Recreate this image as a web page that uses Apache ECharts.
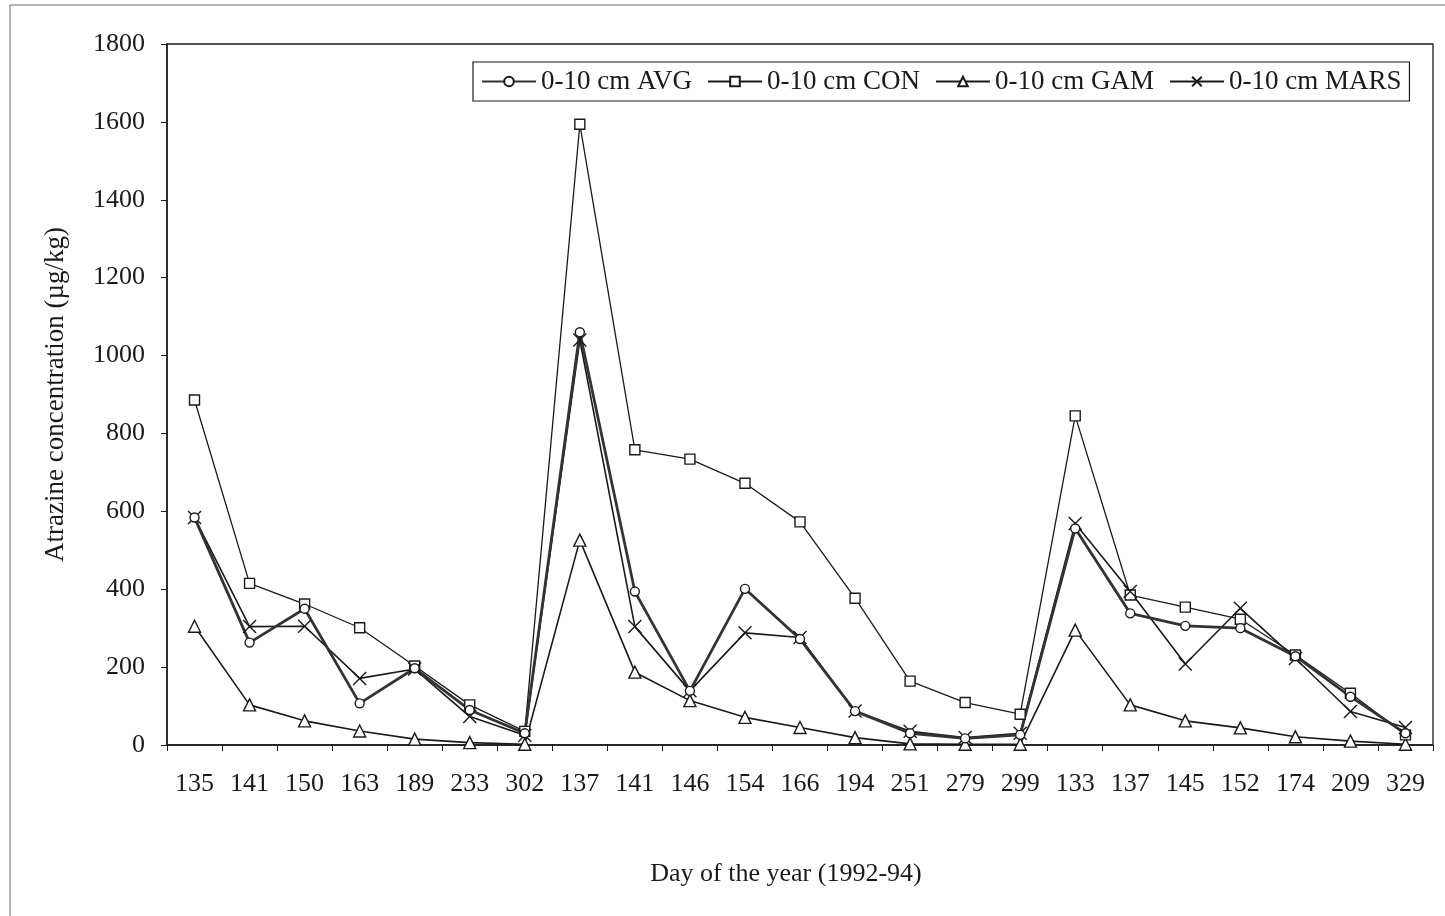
<!DOCTYPE html>
<html>
<head>
<meta charset="utf-8">
<script src="https://cdn.jsdelivr.net/npm/echarts@6/dist/echarts.min.js"></script>
<style>
  html, body { margin: 0; padding: 0; background: #fff; }
  #chart { width: 1445px; height: 916px; }
</style>
</head>
<body>
<div id="chart"></div>
<script>
// Sampling days (day of year), 1992 through 1994
const days = ['135','141','150','163','189','233','302','137','141','146','154','166','194','251','279','299','133','137','145','152','174','209','329'];

// Atrazine concentration in the 0-10 cm layer (µg/kg)
const avgValues  = [584, 263, 350, 107, 197, 90, 30, 1060, 394, 139, 401, 272, 87, 30, 17, 26, 556, 338, 306, 300, 228, 124, 30];
const conValues  = [886, 415, 362, 301, 203, 103, 35, 1594, 758, 734, 672, 573, 377, 164, 109, 79, 845, 385, 354, 323, 231, 133, 26];
const gamValues  = [305, 103, 62, 36, 15, 6, 2, 526, 187, 114, 71, 45, 19, 3, 2, 2, 295, 103, 62, 44, 21, 10, 2];
const marsValues = [584, 304, 305, 171, 195, 73, 25, 1040, 304, 139, 288, 276, 87, 35, 19, 30, 569, 394, 208, 351, 222, 86, 45];

const yTicks = { min: 0, max: 1800, step: 200 };

const ink = '#1a1a1a';
const serif = '"Liberation Serif", "Times New Roman", serif';
const crossPath = 'path://M0,0L10,10M10,0L0,10';

function lineSeries(name, data, symbol, size, width, color) {
  return {
    name: name,
    type: 'line',
    data: data,
    symbol: symbol,
    symbolSize: size,
    showAllSymbol: true,
    lineStyle: { color: color || ink, width: width },
    itemStyle: { color: symbol === crossPath ? ink : '#fff', borderColor: ink, borderWidth: 1.4 },
    emphasis: { disabled: true },
    animation: false
  };
}

const chart = echarts.init(document.getElementById('chart'), null, { renderer: 'canvas' });
chart.setOption({
  backgroundColor: '#fff',
  textStyle: { fontFamily: serif, color: ink },
  graphic: [{
    type: 'rect',
    shape: { x: 10, y: 5, width: 1450, height: 930 },
    style: { fill: 'none', stroke: '#666', lineWidth: 1 },
    silent: true
  }],
  grid: {
    left: 167, top: 44, right: 12, bottom: 171,
    show: true, borderColor: ink, borderWidth: 1.3, backgroundColor: 'transparent'
  },
  legend: {
    left: 473, top: 62,
    padding: [6, 8, 6, 8],
    itemGap: 15,
    itemWidth: 54,
    itemHeight: 12,
    borderColor: ink,
    borderWidth: 1.2,
    borderRadius: 0,
    textStyle: { fontFamily: serif, fontSize: 27, color: ink },
    data: ['0-10 cm AVG', '0-10 cm CON', '0-10 cm GAM', '0-10 cm MARS']
  },
  xAxis: {
    type: 'category',
    data: days,
    boundaryGap: true,
    axisLine: { lineStyle: { color: ink, width: 1.5 } },
    axisTick: { show: true, length: 6, lineStyle: { color: ink } },
    axisLabel: { fontFamily: serif, fontSize: 26, color: ink, margin: 26, interval: 0 },
    splitLine: { show: false },
    name: 'Day of the year (1992-94)',
    nameLocation: 'middle',
    nameGap: 116,
    nameTextStyle: { fontFamily: serif, fontSize: 26, color: ink, padding: [0, 28, 0, 0] }
  },
  yAxis: {
    type: 'value',
    min: yTicks.min,
    max: yTicks.max,
    interval: yTicks.step,
    axisLine: { show: true, lineStyle: { color: ink, width: 1.5 } },
    axisTick: { show: true, length: 6, lineStyle: { color: ink } },
    axisLabel: { fontFamily: serif, fontSize: 26, color: ink, margin: 22, formatter: function (v) { return String(v); } },
    splitLine: { show: false },
    name: 'Atrazine concentration (µg/kg)',
    nameLocation: 'middle',
    nameGap: 98,
    nameTextStyle: { fontFamily: serif, fontSize: 27, color: ink }
  },
  series: [
    lineSeries('0-10 cm GAM', gamValues, 'triangle', 12, 1.6),
    lineSeries('0-10 cm CON', conValues, 'rect', 10, 1.3),
    lineSeries('0-10 cm MARS', marsValues, crossPath, 13, 1.6),
    lineSeries('0-10 cm AVG', avgValues, 'circle', 9, 2.8, '#333')
  ]
});
</script>
</body>
</html>
